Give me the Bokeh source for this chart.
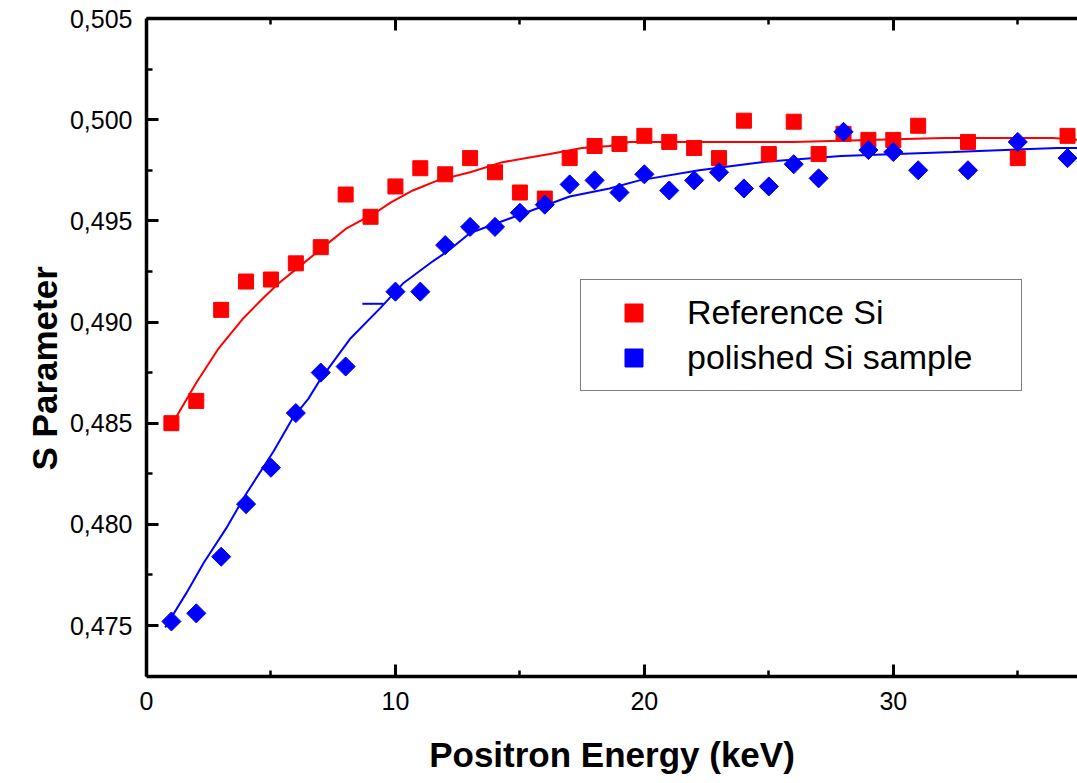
import numpy as np
from bokeh.plotting import figure
from bokeh.models import (LinearAxis, Range1d, Legend, LegendItem, Title,
                          CustomJSTickFormatter, FixedTicker)
from bokeh.embed import file_html
from bokeh.resources import INLINE

# ---- data ----
ref_x = [1, 2, 3, 4, 5, 6, 7, 8, 9, 10, 11, 12, 13, 14, 15, 16, 17, 18, 19, 20,
         21, 22, 23, 24, 25, 26, 27, 28, 29, 30, 31, 33, 35, 37]
ref_s = [0.4850, 0.4861, 0.4906, 0.4920, 0.4921, 0.4929, 0.4937, 0.4963, 0.4952, 0.4967,
         0.4976, 0.4973, 0.4981, 0.4974, 0.4964, 0.4961, 0.4981, 0.4987, 0.4988, 0.4992,
         0.4989, 0.4986, 0.4981, 0.49995, 0.4983, 0.4999, 0.4983, 0.4993, 0.4990, 0.4990,
         0.4997, 0.4989, 0.4981, 0.4992]

pol_x = [1, 2, 3, 4, 5, 6, 7, 8, 10, 11, 12, 13, 14, 15, 16, 17, 18, 19, 20,
         21, 22, 23, 24, 25, 26, 27, 28, 29, 30, 31, 33, 35, 37]
pol_s = [0.4752, 0.4756, 0.4784, 0.4810, 0.4828, 0.4855, 0.4875, 0.4878, 0.4915, 0.4915,
         0.4938, 0.4947, 0.4947, 0.4954, 0.4958, 0.4968, 0.4970, 0.4964, 0.4973,
         0.4965, 0.4970, 0.4974, 0.4966, 0.4967, 0.4978, 0.4971, 0.4994, 0.4985, 0.4984,
         0.4975, 0.4975, 0.4989, 0.4981]

ref_fit_x = [1.0, 2.0, 2.9, 3.9, 4.7, 5.3, 6.1, 7.1, 8.0, 9.2, 9.8, 10.7, 11.7, 13.0,
             14.3, 16.2, 17.5, 18.6, 19.4, 26.0, 32.0, 36.4, 37.4]
ref_fit_s = [0.4849, 0.4870, 0.4887, 0.4902, 0.4912, 0.4919, 0.4927, 0.4937, 0.4946,
             0.4954, 0.4959, 0.4965, 0.4970, 0.4974, 0.4979, 0.4983, 0.4986, 0.4987,
             0.4989, 0.4989, 0.4991, 0.4991, 0.4990]

pol_fit_x = [0.75, 1.6, 2.3, 3.2, 4.0, 5.1, 5.9, 6.5, 6.95, 8.2, 9.4, 10.3, 11.5, 12.1,
             13.0, 15.0, 17.0, 18.6, 19.8, 22.2, 24.7, 27.9, 32.4, 36.6, 37.4]
pol_fit_s = [0.4749, 0.4766, 0.4781, 0.4798, 0.4815, 0.4836, 0.4853, 0.4862, 0.4871,
             0.4892, 0.4907, 0.4919, 0.4930, 0.4935, 0.4944, 0.4953, 0.4962, 0.4966,
             0.4970, 0.4975, 0.4979, 0.4982, 0.4984, 0.4986, 0.4986]

stub_x = [8.67, 9.52]
stub_s = [0.4909, 0.4909]

x_ticks = [0, 10, 20, 30]
x_minor = [5, 15, 25, 35]
y_ticks = [0.475, 0.480, 0.485, 0.490, 0.495, 0.500, 0.505]
y_minor = [0.4775, 0.4825, 0.4875, 0.4925, 0.4975, 0.5025]

FONT = "Liberation Sans"

p = figure(width=1077, height=783, output_backend="svg", toolbar_location=None,
           x_range=Range1d(0, 37.4), y_range=Range1d(0.47248, 0.505),
           min_border_left=146, min_border_right=0, min_border_top=18,
           min_border_bottom=107,
           x_axis_label="Positron Energy (keV)")
p.grid.visible = False
p.outline_line_color = None
p.background_fill_color = "white"
p.border_fill_color = "white"

xax = p.below[0]
yax = p.left[0]

xax.ticker = FixedTicker(ticks=x_ticks, minor_ticks=x_minor)
yax.ticker = FixedTicker(ticks=y_ticks, minor_ticks=y_minor)
yax.formatter = CustomJSTickFormatter(code="return tick.toFixed(3).replace('.', ',');")

top = LinearAxis(ticker=FixedTicker(ticks=x_ticks[1:], minor_ticks=x_minor),
                 major_label_text_font_size="0px", major_label_standoff=0,
                 major_label_text_alpha=0)
p.add_layout(top, "above")

for ax in [xax, yax, top]:
    ax.axis_line_width = 3.5
    ax.axis_line_color = "black"
    ax.major_tick_in = 12
    ax.major_tick_out = 0
    ax.minor_tick_in = 6
    ax.minor_tick_out = 0
    ax.major_tick_line_width = 3
    ax.minor_tick_line_width = 2.5
    ax.major_tick_line_color = "black"
    ax.minor_tick_line_color = "black"

for ax in [xax, yax]:
    ax.major_label_text_font = FONT
    ax.major_label_text_font_size = "25px"
    ax.major_label_text_color = "black"

xax.axis_label_text_font = FONT
xax.axis_label_text_font_style = "bold"
xax.axis_label_text_font_size = "35px"
xax.axis_label_text_color = "black"

xax.major_label_standoff = 15
xax.axis_label_standoff = 22
yax.major_label_standoff = 14

ytitle = Title(text="S Parameter", align="left", offset=206, standoff=6,
               text_font=FONT, text_font_style="bold", text_font_size="35px",
               text_color="black")
p.add_layout(ytitle, "left")

p.line(ref_fit_x, ref_fit_s, line_color="red", line_width=2)
p.line(pol_fit_x, pol_fit_s, line_color="blue", line_width=2)
p.line(stub_x, stub_s, line_color="blue", line_width=2)

r1 = p.scatter(ref_x, ref_s, marker="square", size=15, fill_color="red", line_color="red")
r2 = p.scatter(pol_x, pol_s, marker="square", angle=np.pi / 4, size=13.5,
               fill_color="blue", line_color="blue")

legend = Legend(items=[LegendItem(label="Reference Si", renderers=[r1]),
                       LegendItem(label="polished Si sample", renderers=[r2])],
                location=(434, 285), orientation="vertical", padding=10, spacing=0,
                glyph_width=85, glyph_height=45, label_standoff=11, label_width=324,
                label_text_font=FONT, label_text_font_size="34px",
                label_text_color="black",
                border_line_color="black", border_line_width=1.5,
                background_fill_color="white", background_fill_alpha=1, margin=0)
p.add_layout(legend)

open("out.html", "w").write(file_html(p, INLINE))
